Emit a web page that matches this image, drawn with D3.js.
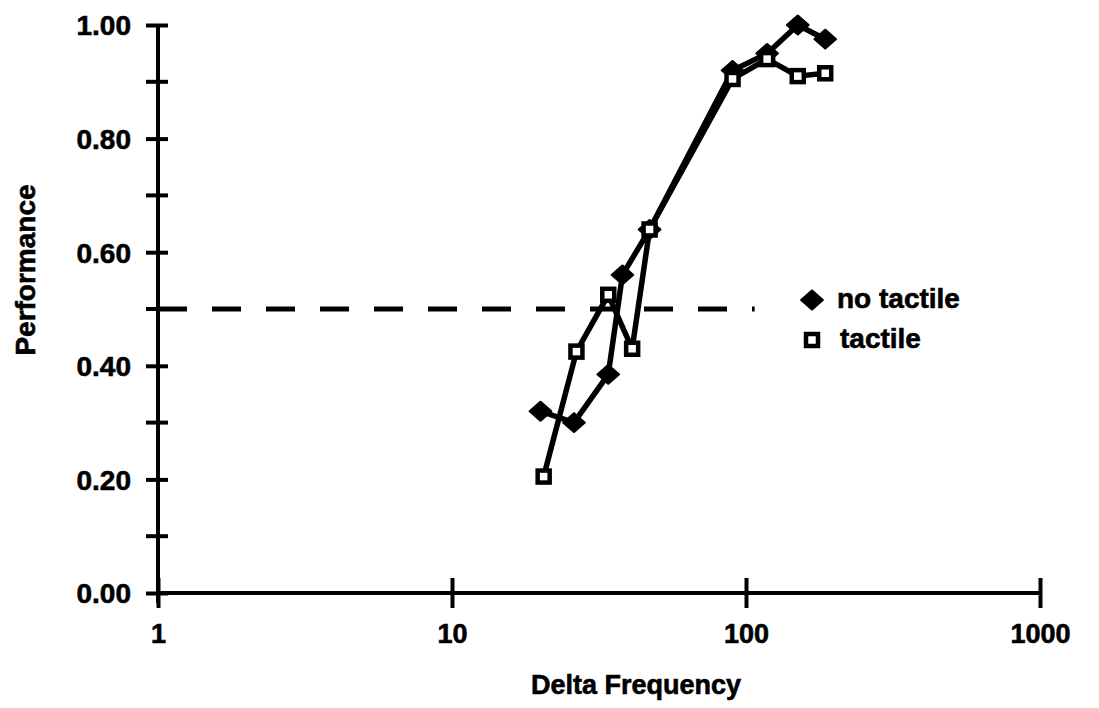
<!DOCTYPE html>
<html>
<head>
<meta charset="utf-8">
<script src="https://cdn.jsdelivr.net/npm/d3@7/dist/d3.min.js"></script>
<style>
	html, body { margin: 0; padding: 0; background: #fff; }
	svg { display: block; }
	text { font-family: "Liberation Sans", Arial, Helvetica, sans-serif; font-weight: bold; fill: #000; stroke: #000; stroke-width: 0.6px; }
</style>
</head>
<body>
<div id="chart"></div>
<script>

// Delta frequency values per series (log axis)
var noTactileX = [20, 26, 34, 38, 47, 90, 118, 150, 186];
var noTactileY = [0.32, 0.30, 0.385, 0.56, 0.64, 0.92, 0.95, 1.00, 0.975];

var tactileX = [20.5, 26.5, 34, 41, 47, 90, 118, 150, 186];
var tactileY = [0.205, 0.425, 0.525, 0.43, 0.64, 0.905, 0.94, 0.91, 0.915];

// Chance level line
var chanceX = [1, 107];
var chanceY = 0.5;

var xTicks = [1, 10, 100, 1000];
var yTicks = [0, 0.2, 0.4, 0.6, 0.8, 1.0];
var yMinorTicks = [0.1, 0.3, 0.5, 0.7, 0.9];

var legendLabels = ["no tactile", "tactile"];

var width = 1099, height = 708;

var svg = d3.select("#chart").append("svg")
	.attr("width", width)
	.attr("height", height);

svg.append("rect").attr("width", width).attr("height", height).attr("fill", "#fff");

var x = d3.scaleLog().domain([1, 1000]).range([158, 1040]);
var y = d3.scaleLinear().domain([0, 1]).range([593, 25]);

var pts = function(xs, ys) {
	return xs.map(function(v, i) { return { x: v, y: ys[i] }; });
};

// x axis
var gx = svg.append("g")
	.attr("transform", "translate(0," + y(0) + ")")
	.call(d3.axisBottom(x).tickValues(xTicks).tickFormat(d3.format("d")).tickSizeOuter(0));

gx.select(".domain").attr("stroke", "#000").attr("stroke-width", 4).attr("d", "M" + x(1) + ",0H" + x(1000));
gx.selectAll(".tick line").attr("stroke", "#000").attr("stroke-width", 4).attr("y1", -15).attr("y2", 15);
gx.selectAll(".tick text")
	.attr("y", 50).attr("dy", 0)
	.style("font-size", "27px")
	.style("font-family", "'Liberation Sans', Arial, sans-serif")
	.style("font-weight", "bold");

// y axis
var gy = svg.append("g")
	.attr("transform", "translate(" + x(1) + ",0)")
	.call(d3.axisLeft(y).tickValues(yTicks).tickFormat(d3.format(".2f")).tickSizeOuter(0));

gy.select(".domain").attr("stroke", "#000").attr("stroke-width", 4).attr("d", "M0," + y(1) + "V" + (y(0) + 10));
gy.selectAll(".tick line").attr("stroke", "#000").attr("stroke-width", 4).attr("x1", -12).attr("x2", 10);
gy.selectAll(".tick text")
	.attr("x", -27).attr("dy", "0.35em")
	.style("font-size", "28px")
	.style("font-family", "'Liberation Sans', Arial, sans-serif")
	.style("font-weight", "bold");

gy.selectAll(".minor")
	.data(yMinorTicks)
	.enter().append("line")
	.attr("class", "minor")
	.attr("x1", -12).attr("x2", 10)
	.attr("y1", function(d) { return y(d); })
	.attr("y2", function(d) { return y(d); })
	.attr("stroke", "#000").attr("stroke-width", 4);

// axis titles
svg.append("text")
	.attr("x", 636).attr("y", 694)
	.attr("text-anchor", "middle")
	.style("font-size", "27px")
	.text("Delta Frequency");

svg.append("text")
	.attr("transform", "translate(35,270) rotate(-90)")
	.attr("text-anchor", "middle")
	.style("font-size", "28px")
	.text("Performance");

// chance line
svg.append("path")
	.datum(chanceX.map(function(v) { return { x: v, y: chanceY }; }))
	.attr("fill", "none")
	.attr("stroke", "#000")
	.attr("stroke-width", 5)
	.attr("stroke-dasharray", "29,25")
	.attr("d", d3.line().x(function(d) { return x(d.x); }).y(function(d) { return y(d.y); }));

var line = d3.line()
	.x(function(d) { return x(d.x); })
	.y(function(d) { return y(d.y); });

var diamond = d3.symbol().type(d3.symbolSquare).size(200);

// no tactile
var noTactile = pts(noTactileX, noTactileY);
svg.append("path")
	.datum(noTactile)
	.attr("fill", "none").attr("stroke", "#000")
	.attr("stroke-width", 5.5).attr("stroke-linejoin", "round")
	.attr("d", line);

svg.selectAll(".diamond")
	.data(noTactile)
	.enter().append("path")
	.attr("class", "diamond")
	.attr("d", diamond)
	.attr("transform", function(d) { return "translate(" + x(d.x) + "," + y(d.y) + ") scale(1.08,0.95) rotate(45)"; })
	.attr("fill", "#000").attr("stroke", "#000")
	.attr("stroke-width", 2).attr("stroke-linejoin", "round");

// tactile
var tactile = pts(tactileX, tactileY);
svg.append("path")
	.datum(tactile)
	.attr("fill", "none").attr("stroke", "#000")
	.attr("stroke-width", 5.5).attr("stroke-linejoin", "round")
	.attr("d", line);

svg.selectAll(".square")
	.data(tactile)
	.enter().append("rect")
	.attr("class", "square")
	.attr("x", function(d) { return x(d.x) - 6; })
	.attr("y", function(d) { return y(d.y) - 6; })
	.attr("width", 12).attr("height", 12)
	.attr("fill", "#fff").attr("stroke", "#000").attr("stroke-width", 4.5);

// legend
var legend = svg.append("g").attr("transform", "translate(812,300)");

legend.append("path")
	.attr("d", diamond)
	.attr("transform", "scale(1.08,0.95) rotate(45)")
	.attr("fill", "#000").attr("stroke", "#000")
	.attr("stroke-width", 2).attr("stroke-linejoin", "round");

legend.append("rect")
	.attr("x", -6).attr("y", 34)
	.attr("width", 12).attr("height", 12)
	.attr("fill", "#fff").attr("stroke", "#000").attr("stroke-width", 4.5);

legend.selectAll("text")
	.data(legendLabels)
	.enter().append("text")
	.attr("x", function(d, i) { return i === 0 ? 25 : 28; })
	.attr("y", function(d, i) { return 8 + i * 40; })
	.style("font-size", "28px")
	.text(function(d) { return d; });

</script>
</body>
</html>
